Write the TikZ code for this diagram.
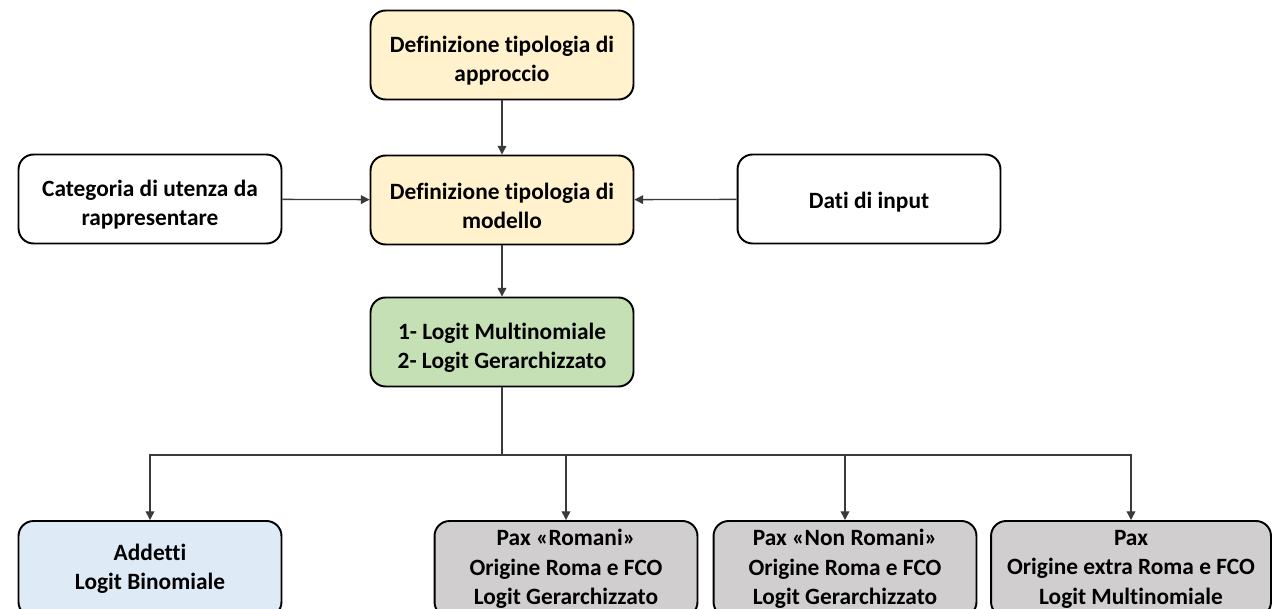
\documentclass[tikz,border=0pt]{standalone}
\usepackage{fontspec}
\setmainfont[Ligatures=NoCommon]{Carlito}
\usepackage{tikz}
\usetikzlibrary{arrows.meta, positioning}

\definecolor{gold}{HTML}{FFF2CC}
\definecolor{leaf}{HTML}{C5E0B4}
\definecolor{sky}{HTML}{DEEBF7}
\definecolor{stone}{HTML}{D0CECE}
\definecolor{wire}{HTML}{3A3A3A}

% strut that pushes the first text line down
\newcommand{\topgap}{\rule{0pt}{16pt}}

\tikzset{
    box/.style={draw=black, line width=1.1pt, rounded corners=0.3cm, align=center,
        minimum width=5.26cm, minimum height=1.78cm, inner sep=2pt,
        font=\fontsize{13.3}{16.8}\selectfont\bfseries,
        execute at begin node={\rule{0pt}{13pt}}},
    link/.style={draw=wire, line width=0.75pt, -{Triangle[length=5pt, width=5pt]}},
}

\begin{document}
\begin{tikzpicture}[x=0.02cm, y=-0.02cm]
    \path[use as bounding box] (0,0) rectangle (1273,608);
    % Upper part
    \node[box, fill=gold] (approccio) at (502,55) {\topgap Definizione tipologia di\\approccio};
    \node[box, fill=gold] (modello) at (502,200) {\topgap Definizione tipologia di\\modello};
    \node[box, fill=white] (utenza) at (150,199) {\topgap Categoria di utenza da\\rappresentare};
    \node[box, fill=white] (input) at (869,199) {Dati di input};
    \node[box, fill=leaf] (logit) at (502,342) {\topgap 1- Logit Multinomiale\\2- Logit Gerarchizzato};
    % Bottom row
    \node[box, fill=sky, minimum height=1.92cm] (addetti) at (150,569) {Addetti\\Logit Binomiale};
    \node[box, fill=stone, minimum height=1.92cm] (romani) at (566,569) {Pax «Romani»\\Origine Roma e FCO\\Logit Gerarchizzato};
    \node[box, fill=stone, minimum height=1.92cm] (nonromani) at (845,569) {Pax «Non Romani»\\Origine Roma e FCO\\Logit Gerarchizzato};
    \node[box, fill=stone, minimum height=1.92cm, minimum width=5.6cm] (extra) at (1131,569) {Pax\\Origine extra Roma e FCO\\Logit Multinomiale};
    % Connectors
    \draw[link] (approccio) -- (modello);
    \draw[link] (utenza) -- (modello);
    \draw[link] (input) -- (modello);
    \draw[link] (modello) -- (logit);
    \coordinate (split) at (502,455);
    \draw[draw=wire, line width=0.75pt] (logit.south) -- (split);
    \foreach \t in {addetti, romani, nonromani, extra}
        \draw[link] (split) -| (\t.north);
\end{tikzpicture}
\end{document}
